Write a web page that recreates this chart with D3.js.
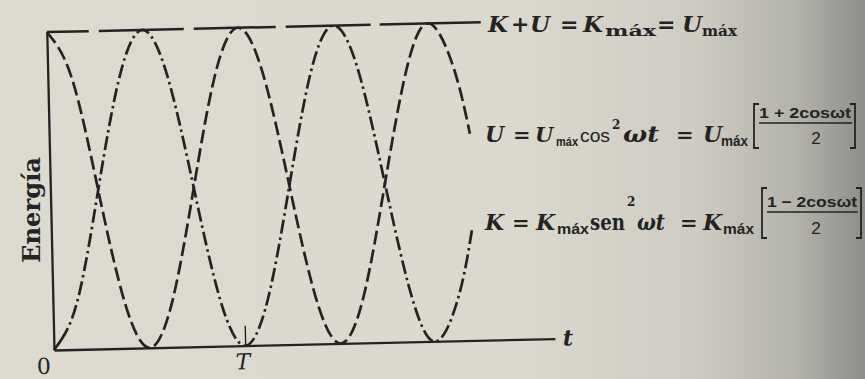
<!DOCTYPE html>
<html>
<head>
<meta charset="utf-8">
<script src="https://cdn.jsdelivr.net/npm/d3@7"></script>
<style>
  html, body { margin: 0; padding: 0; background: #dad7cb; }
  svg { display: block; }
</style>
</head>
<body>
<script>
// Time, in units of the period T
const times = [0, 0.125, 0.25, 0.375, 0.5, 0.625, 0.75, 0.875, 1, 1.125, 1.25, 1.375, 1.5, 1.625, 1.75, 1.875, 2, 2.125, 2.2];
// Potential energy U / Umáx
const potential = [1, 0.854, 0.5, 0.146, 0, 0.146, 0.5, 0.854, 1, 0.854, 0.5, 0.146, 0, 0.146, 0.5, 0.854, 1, 0.854, 0.65];
// Kinetic energy K / Kmáx
const kinetic = [0, 0.146, 0.5, 0.854, 1, 0.854, 0.5, 0.146, 0, 0.146, 0.5, 0.854, 1, 0.854, 0.5, 0.146, 0, 0.146, 0.35];
// Total energy K + U, constant
const totalTimes = [0, 2.27];
const total = [1, 1];
// Axis ticks
const tickValues = [0, 1];
const tickLabels = ["0", "T"];

const W = 865, H = 379;
const svg = d3.select("body").append("svg")
  .attr("width", W).attr("height", H)
  .attr("viewBox", `0 0 ${W} ${H}`);

// paper background, darker towards the right edge
const defs = svg.append("defs");
const grad = defs.append("linearGradient").attr("id", "paper")
  .attr("x1", "0%").attr("x2", "100%").attr("y1", "0%").attr("y2", "0%");
[["0%", "#dddacf"], ["60%", "#dbd9ce"], ["80%", "#cfcdc3"], ["92%", "#b3b2ab"], ["100%", "#8e8e8a"]]
  .forEach(([o, c]) => grad.append("stop").attr("offset", o).attr("stop-color", c));
svg.append("rect").attr("width", W).attr("height", H).attr("fill", "url(#paper)");

const ink = "#232323";
const serif = "'DejaVu Serif', 'Liberation Serif', serif";
const sans = "'Liberation Sans', 'DejaVu Sans', sans-serif";

// plot frame (slightly tilted on the page)
const plot = svg.append("g").attr("transform", "translate(54,350) rotate(-1.3)");

const x = d3.scaleLinear().domain([0, 2.62]).range([0, 501]);
const y = d3.scaleLinear().domain([0, 1]).range([0, -318]);

// axes
const xAxis = d3.axisBottom(x).tickValues(tickValues)
  .tickFormat((d, i) => tickLabels[i]).tickSize(-20).tickSizeOuter(0);
const gx = plot.append("g").call(xAxis);
gx.select(".domain").attr("stroke", ink).attr("stroke-width", 2.3);
gx.selectAll(".tick line").attr("stroke", ink).attr("stroke-width", 1.4)
  .attr("opacity", (d) => d === 0 ? 0 : 1);
gx.selectAll(".tick text")
  .attr("fill", ink).attr("font-family", serif).attr("font-size", 22)
  .attr("font-style", (d) => d === 0 ? "normal" : "italic")
  .attr("y", 8).attr("dy", "0.71em")
  .attr("dx", (d) => d === 0 ? -11 : -3);

const yAxis = d3.axisLeft(y).tickValues([]).tickSizeOuter(0);
const gy = plot.append("g").call(yAxis);
gy.select(".domain").attr("stroke", ink).attr("stroke-width", 2.3);

plot.append("text").attr("x", x(2.62) + 8).attr("y", 7)
  .attr("font-family", serif).attr("font-style", "italic").attr("font-weight", "bold")
  .attr("font-size", 22).attr("fill", ink).text("t");

// energy curves
const line = d3.line().x((d) => x(d[0])).y((d) => y(d[1])).curve(d3.curveNatural);

plot.append("path")
  .datum(totalTimes.map((t, i) => [t, total[i]]))
  .attr("d", d3.line().x((d) => x(d[0])).y((d) => y(d[1])))
  .attr("fill", "none").attr("stroke", ink).attr("stroke-width", 2.5)
  .attr("stroke-dasharray", "42 10 85 10 82 10 85 9 120");

plot.append("path")
  .datum(times.map((t, i) => [t, potential[i]]))
  .attr("d", line)
  .attr("fill", "none").attr("stroke", ink).attr("stroke-width", 2.7)
  .attr("stroke-dasharray", "14 5");

// dash-dot pattern for the kinetic curve, with a longer opening dash
const dashDot = ["26 4 2.5 4"].concat(d3.range(60).map(() => "14 4 2.5 4")).join(" ");
plot.append("path")
  .datum(times.map((t, i) => [t, kinetic[i]]))
  .attr("d", line)
  .attr("fill", "none").attr("stroke", ink).attr("stroke-width", 2.7)
  .attr("stroke-dasharray", dashDot);

// y-axis title
svg.append("text")
  .attr("transform", "translate(40,210) rotate(-90)")
  .attr("text-anchor", "middle")
  .attr("font-family", serif).attr("font-weight", "bold").attr("font-size", 24)
  .attr("textLength", 106).attr("lengthAdjust", "spacingAndGlyphs")
  .attr("fill", ink).text("Energía");

// equation labels
const eq = svg.append("g").attr("fill", ink);
function put(str, px, py, o = {}) {
  const t = eq.append("text").attr("x", px).attr("y", py)
    .attr("font-family", o.family || serif)
    .attr("font-size", o.size || 22)
    .attr("font-weight", o.weight || "bold")
    .attr("font-style", o.italic ? "italic" : "normal")
    .text(str);
  if (o.anchor) t.attr("text-anchor", o.anchor);
  if (o.len) t.attr("textLength", o.len).attr("lengthAdjust", "spacingAndGlyphs");
  return t;
}
function bracket(x0, y0, y1, dir) {
  const w = 5 * dir;
  eq.append("path")
    .attr("d", `M${x0 + w},${y0} H${x0} V${y1} H${x0 + w}`)
    .attr("fill", "none").attr("stroke", ink).attr("stroke-width", 1.8);
}

// K + U = Kmáx = Umáx
put("K", 488, 32, { italic: true, size: 23 });
put("+", 511, 32, { size: 22 });
put("U", 530, 32, { italic: true, size: 23 });
put("=", 560, 32, { size: 22 });
put("K", 583, 32, { italic: true, size: 23 });
put("máx", 605, 36, { size: 15, len: 51 });
put("=", 657, 32, { size: 22 });
put("U", 682, 32, { italic: true, size: 23 });
put("máx", 702, 36, { size: 15, len: 35 });

// U = Umáx cos²ωt = Umáx [(1 + 2cosωt)/2]
put("U", 485, 142, { italic: true, size: 22 });
put("=", 513, 142, { size: 21 });
put("U", 535, 142, { italic: true, size: 21 });
put("máx", 556, 146, { family: sans, size: 13, len: 22 });
put("cos", 580, 142, { family: sans, size: 19, weight: "normal", len: 30 });
put("2", 612, 129, { size: 12 });
put("ωt", 623, 142, { italic: true, size: 22, len: 36 });
put("=", 676, 142, { size: 21 });
put("U", 703, 142, { italic: true, size: 22 });
put("máx", 721, 146, { family: sans, size: 14, len: 27 });
bracket(754, 104, 148, 1);
put("1 + 2cosωt", 759, 118, { family: sans, size: 15, len: 92 });
eq.append("line").attr("x1", 759).attr("x2", 852).attr("y1", 123).attr("y2", 123)
  .attr("stroke", ink).attr("stroke-width", 1.3);
put("2", 816, 144, { family: sans, size: 17, weight: "normal", anchor: "middle" });
bracket(855, 104, 148, -1);

// K = Kmáx sen²ωt = Kmáx [(1 − 2cosωt)/2]
put("K", 485, 230, { italic: true, size: 22 });
put("=", 512, 230, { size: 21 });
put("K", 536, 230, { italic: true, size: 22 });
put("máx", 557, 234, { family: sans, size: 14, len: 32 });
put("sen", 590, 230, { size: 22, len: 35 });
put("2", 627, 206, { size: 12 });
put("ωt", 637, 230, { italic: true, size: 22, len: 28 });
put("=", 680, 230, { size: 21 });
put("K", 703, 230, { italic: true, size: 22 });
put("máx", 723, 234, { family: sans, size: 14, len: 31 });
bracket(762, 188, 238, 1);
put("1 − 2cosωt", 767, 207, { family: sans, size: 15, len: 90 });
eq.append("line").attr("x1", 767).attr("x2", 858).attr("y1", 212).attr("y2", 212)
  .attr("stroke", ink).attr("stroke-width", 1.3);
put("2", 816, 234, { family: sans, size: 17, weight: "normal", anchor: "middle" });
bracket(861, 188, 238, -1);
</script>
</body>
</html>
